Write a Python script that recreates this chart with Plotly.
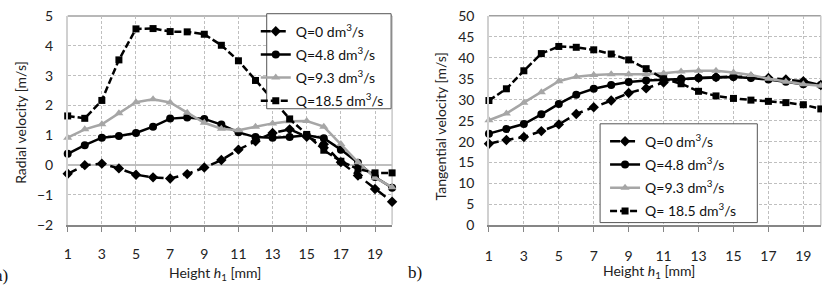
import plotly.graph_objects as go

heights = list(range(1, 21))

# Radial velocity [m/s] (chart a)
rad_q0 = [-0.29, 0.0, 0.05, -0.11, -0.32, -0.41, -0.45, -0.30, -0.08, 0.17,
          0.52, 0.80, 1.08, 1.20, 0.95, 0.70, 0.10, -0.35, -0.80, -1.23]
rad_q48 = [0.38, 0.67, 0.92, 0.98, 1.08, 1.29, 1.56, 1.60, 1.55, 1.36,
           1.10, 0.94, 0.92, 0.94, 1.00, 0.90, 0.52, 0.08, -0.40, -0.76]
rad_q93 = [0.92, 1.20, 1.37, 1.74, 2.11, 2.21, 2.10, 1.76, 1.42, 1.22,
           1.17, 1.29, 1.40, 1.47, 1.48, 1.29, 0.71, 0.10, -0.42, -0.74]
rad_q185 = [1.65, 1.57, 2.17, 3.53, 4.57, 4.58, 4.48, 4.47, 4.39, 4.02,
            3.50, 2.84, 2.20, 1.55, 1.03, 0.50, 0.13, -0.13, -0.26, -0.26]

# Tangential velocity [m/s] (chart b)
tan_q0 = [19.5, 20.4, 21.1, 22.5, 24.1, 26.6, 28.2, 29.8, 31.6, 32.7,
          34.1, 34.8, 35.2, 35.4, 35.5, 35.4, 35.2, 34.8, 34.4, 33.5]
tan_q48 = [21.9, 23.0, 24.2, 26.5, 29.0, 31.2, 32.6, 33.5, 34.2, 34.6,
           34.8, 35.0, 35.2, 35.3, 35.4, 35.2, 34.8, 34.3, 33.7, 33.5]
tan_q93 = [25.1, 26.7, 29.3, 31.8, 34.4, 35.5, 35.9, 36.1, 36.1, 36.1,
           36.3, 36.7, 36.9, 36.9, 36.5, 35.9, 35.0, 34.3, 33.7, 33.3]
tan_q185 = [29.8, 32.6, 36.9, 41.0, 42.7, 42.5, 41.9, 40.9, 39.5, 37.4,
            35.0, 33.8, 32.0, 30.9, 30.3, 29.9, 29.6, 29.3, 28.8, 27.8]

names_a = ["Q=0 dm<sup>3</sup>/s", "Q=4.8 dm<sup>3</sup>/s", "Q=9.3 dm<sup>3</sup>/s", "Q=18.5 dm<sup>3</sup>/s"]
names_b = ["Q=0 dm<sup>3</sup>/s", "Q=4.8 dm<sup>3</sup>/s", "Q=9.3 dm<sup>3</sup>/s", "Q= 18.5 dm<sup>3</sup>/s"]

FONT = "Lato, 'Open Sans', sans-serif"
GRAY = "#A6A6A6"
styles = [
    dict(color="black", dash="10px,5px", symbol="diamond", size=8),
    dict(color="black", dash="solid", symbol="circle", size=8),
    dict(color=GRAY, dash="solid", symbol="triangle-up", size=8),
    dict(color="black", dash="7px,3px", symbol="square", size=7),
]

fig = go.Figure()
for i, (series, name, st) in enumerate(zip([rad_q0, rad_q48, rad_q93, rad_q185], names_a, styles)):
    fig.add_trace(go.Scatter(
        x=heights, y=series, name=name, mode="lines+markers",
        line=dict(color=st["color"], width=2.5, dash=st["dash"]),
        marker=dict(symbol=st["symbol"], size=st["size"], color=st["color"]),
        xaxis="x", yaxis="y", legend="legend", legendgroup=f"a{i}", cliponaxis=False))
for i, (series, name, st) in enumerate(zip([tan_q0, tan_q48, tan_q93, tan_q185], names_b, styles)):
    fig.add_trace(go.Scatter(
        x=heights, y=series, name=name, mode="lines+markers",
        line=dict(color=st["color"], width=2.5, dash=st["dash"]),
        marker=dict(symbol=st["symbol"], size=st["size"], color=st["color"]),
        xaxis="x2", yaxis="y2", legend="legend2", legendgroup=f"b{i}", cliponaxis=False))

W, H = 822, 288
def px(x):
    return x / W
def py(y):
    return (H - y) / H

GRID = dict(showgrid=True, gridcolor="#BFBFBF", griddash="3px,2px", gridwidth=1)
xcommon = dict(range=[1, 20], tick0=1, dtick=2, zeroline=False, showline=True,
               linecolor="#868686", linewidth=1.5, ticks="outside", ticklen=5,
               tickcolor="#868686", ticklabeloverflow="allow",
               tickfont=dict(family=FONT, size=14, color="#222"), **GRID)
ycommon = dict(showline=True, linecolor="#D0D0D0", linewidth=1.5, ticks="",
               ticklabelstandoff=10, ticklabeloverflow="allow",
               tickfont=dict(family=FONT, size=14, color="#222"), **GRID)

leg_common = dict(xanchor="left", yanchor="top", bgcolor="rgba(0,0,0,0)",
                  borderwidth=0, font=dict(family=FONT, size=14, color="#111"),
                  itemwidth=30, tracegroupgap=2)

fig.update_layout(
    width=W, height=H, margin=dict(l=0, r=0, t=0, b=0),
    plot_bgcolor="white", paper_bgcolor="white",
    xaxis=dict(domain=[px(64), px(390)], anchor="y", ticklabelstandoff=11, **xcommon),
    yaxis=dict(domain=[py(229.3), py(7.5)], anchor="x", range=[-2, 5], dtick=1,
               zeroline=True, zerolinecolor="#BFBFBF", zerolinewidth=1.5, **ycommon),
    xaxis2=dict(domain=[px(487.3), px(820.8)], anchor="y2", ticklabelstandoff=12, **xcommon),
    yaxis2=dict(domain=[py(230), py(7.3)], anchor="x2", range=[0, 50], dtick=5,
                zeroline=False, **ycommon),
    legend=dict(x=px(253), y=py(7), **leg_common),
    legend2=dict(x=px(604), y=py(124), **leg_common),
    showlegend=True,
)

# plot-area top/right borders
for xr, yr in [("x domain", "y domain"), ("x2 domain", "y2 domain")]:
    fig.add_shape(type="line", xref=xr, yref=yr, x0=0, x1=1, y0=1, y1=1,
                  line=dict(color="#A0A0A0", width=1.5), layer="below")
    fig.add_shape(type="line", xref=xr, yref=yr, x0=1, x1=1, y0=0, y1=1,
                  line=dict(color="#C8C8C8", width=1.5), layer="below")

# legend boxes
for (x0, y0, x1, y1) in [(264, 5, 389, 106), (599, 122, 757, 227)]:
    fig.add_shape(type="rect", xref="paper", yref="paper",
                  x0=px(x0), x1=px(x1), y0=py(y1), y1=py(y0),
                  fillcolor="white", line=dict(color="#555", width=1), layer="above")

ann_font = dict(family=FONT, size=14, color="#222")
annotations = [
    dict(text="Radial velocity [m/s]", x=px(17), y=py(120), textangle=-90),
    dict(text="Tangential velocity [m/s]", x=px(439), y=py(125), textangle=-90),
    dict(text="Height <i>h</i><sub>1</sub> [mm]", x=px(212), y=py(281)),
    dict(text="Height <i>h</i><sub>1</sub> [mm]", x=px(648), y=py(279)),
]
for a in annotations:
    fig.add_annotation(xref="paper", yref="paper", showarrow=False,
                       xanchor="center", yanchor="middle", font=ann_font, **a)
fig.add_annotation(text="a)", xref="paper", yref="paper", x=px(6), y=py(283),
                   xanchor="right", yanchor="middle", showarrow=False,
                   font=dict(family="Liberation Serif", size=17, color="#111"))
fig.add_annotation(text="b)", xref="paper", yref="paper", x=px(404), y=py(280),
                   xanchor="left", yanchor="middle", showarrow=False,
                   font=dict(family="Liberation Serif", size=17, color="#111"))

fig.write_html("out.html")
